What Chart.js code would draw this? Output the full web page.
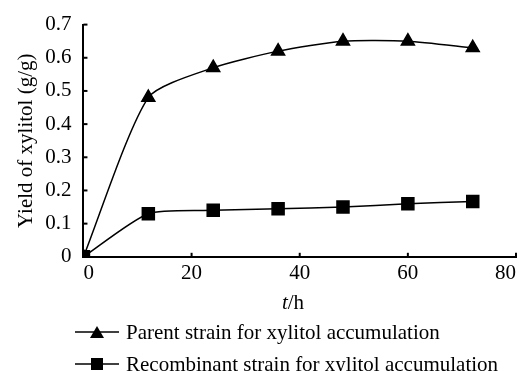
<!DOCTYPE html>
<html>
<head>
<meta charset="utf-8">
<script src="https://cdn.jsdelivr.net/npm/chart.js@4.4.1/dist/chart.umd.min.js"></script>
<style>
  body { margin: 0; background: #fff; }
  #wrap { position: relative; width: 526px; height: 371px; font-family: "Liberation Serif", serif; font-size: 21px; color: #000; }
  #xtitle { position: absolute; left: 0; width: 586px; top: 290px; text-align: center; line-height: 24px; }
  #legend { position: absolute; left: 75px; top: 316px; }
  .row { display: flex; align-items: center; height: 32px; white-space: nowrap; }
  .row svg { margin-right: 7px; }
</style>
</head>
<body>
<div id="wrap">
  <canvas id="chart" width="526" height="371"></canvas>
  <div id="xtitle"><i>t</i>/h</div>
  <div id="legend"></div>
</div>
<script>
const hours = [0, 12, 24, 36, 48, 60, 72];
const parentYield = [0, 0.48, 0.57, 0.62, 0.65, 0.65, 0.63];
const recombinantYield = [0, 0.13, 0.14, 0.145, 0.15, 0.16, 0.167];
const seriesNames = ['Parent strain for xylitol accumulation', 'Recombinant strain for xylitol accumulation'];
const yTicks = [0, 0.1, 0.2, 0.3, 0.4, 0.5, 0.6, 0.7];
const xTicks = [0, 20, 40, 60, 80];

const font = { family: '"Liberation Serif", serif', size: 21 };

// small ticks pointing into the plot, like the original
const innerTicks = {
  id: 'innerTicks',
  afterDraw(chart) {
    const { ctx, chartArea, scales } = chart;
    ctx.save();
    ctx.strokeStyle = '#000';
    ctx.lineWidth = 2;
    xTicks.forEach(v => {
      const x = scales.x.getPixelForValue(v);
      ctx.beginPath(); ctx.moveTo(x, chartArea.bottom); ctx.lineTo(x, chartArea.bottom - 4); ctx.stroke();
    });
    yTicks.forEach(v => {
      const y = scales.y.getPixelForValue(v);
      ctx.beginPath(); ctx.moveTo(chartArea.left, y); ctx.lineTo(chartArea.left + 4, y); ctx.stroke();
    });
    ctx.restore();
  }
};

new Chart(document.getElementById('chart'), {
  type: 'line',
  data: {
    datasets: [
      {
        label: seriesNames[0],
        data: hours.map((h, i) => ({ x: h, y: parentYield[i] })),
        borderColor: '#000', backgroundColor: '#000', borderWidth: 1.5,
        pointStyle: 'triangle', pointRadius: 7.5, tension: 0.22, order: 1
      },
      {
        label: seriesNames[1],
        data: hours.map((h, i) => ({ x: h, y: recombinantYield[i] })),
        borderColor: '#000', backgroundColor: '#000', borderWidth: 1.5,
        pointStyle: 'rect', pointRadius: 8.5, tension: 0.22, order: 0
      }
    ]
  },
  options: {
    responsive: false,
    animation: false,
    layout: { padding: { left: 14, right: 0, top: 12, bottom: 81 } },
    plugins: { legend: { display: false }, tooltip: { enabled: false } },
    scales: {
      x: {
        type: 'linear', min: 0, max: 80,
        afterBuildTicks: s => { s.ticks = xTicks.map(v => ({ value: v })); },
        afterFit: s => { s.paddingRight = 0; },
        grid: { drawOnChartArea: false, drawTicks: false },
        border: { color: '#000', width: 2 },
        ticks: { color: '#000', font, padding: 4, align: 'inner' }
      },
      y: {
        min: 0, max: 0.7,
        afterBuildTicks: s => { s.ticks = yTicks.map(v => ({ value: v })); },
        grid: { drawOnChartArea: false, drawTicks: false },
        border: { color: '#000', width: 2 },
        ticks: { color: '#000', font, padding: 12, callback: v => String(Math.round(v * 10) / 10) },
        title: { display: true, text: 'Yield of xylitol (g/g)', color: '#000', font, padding: { top: 0, bottom: -6 } }
      }
    }
  },
  plugins: [innerTicks]
});

// legend: line with marker in the middle, then the name
const legend = document.getElementById('legend');
const symbols = [
  '<polygon points="22,1 29,13 15,13" fill="#000"/>',
  '<rect x="16" y="1" width="12" height="12" fill="#000"/>'
];
seriesNames.forEach((name, i) => {
  const row = document.createElement('div');
  row.className = 'row';
  row.innerHTML = '<svg width="44" height="14"><line x1="0" y1="7" x2="44" y2="7" stroke="#000" stroke-width="1.5"/>' +
    symbols[i] + '</svg><span>' + name + '</span>';
  legend.appendChild(row);
});
</script>
</body>
</html>
